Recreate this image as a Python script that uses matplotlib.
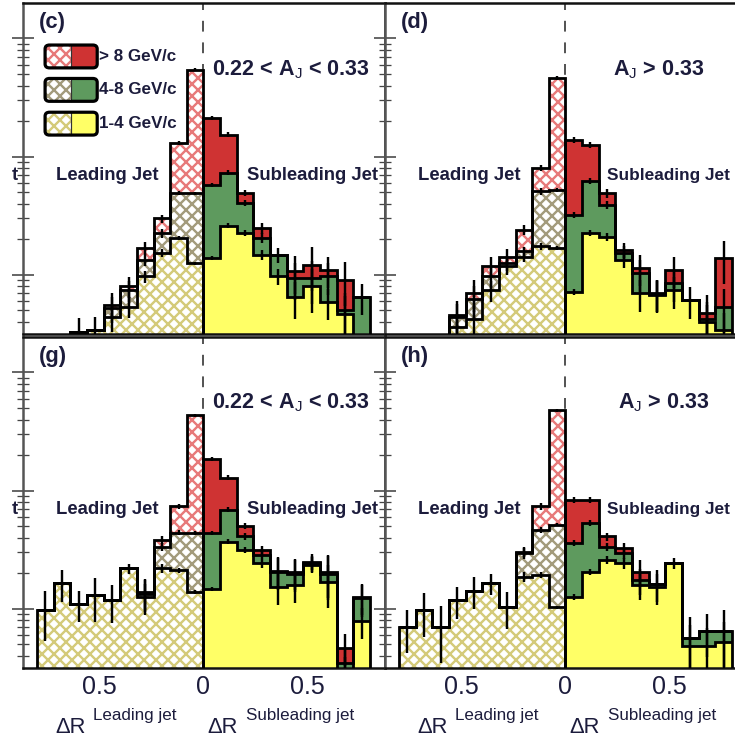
import numpy as np
import matplotlib
matplotlib.use("Agg")
import matplotlib.pyplot as plt
from matplotlib.patches import Rectangle, FancyBboxPatch
from matplotlib.ticker import LogLocator, NullFormatter

DPI = 72  # 1 pt == 1 px here, keeps hatch spacing close to the original

plt.rcParams['font.family'] = ['Liberation Sans', 'DejaVu Sans']
plt.rcParams['mathtext.fontset'] = 'custom'
plt.rcParams['mathtext.rm'] = 'Liberation Sans'
plt.rcParams['mathtext.it'] = 'Liberation Sans:italic'
plt.rcParams['mathtext.bf'] = 'Liberation Sans:bold'
plt.rcParams['hatch.linewidth'] = 2.4

# ---------------------------------------------------------------- data
# Delta R bins, same on the leading and the subleading side
dr_edges = [0.0, 0.08, 0.16, 0.24, 0.32, 0.40, 0.48, 0.56, 0.64, 0.72, 0.80]
pt_labels = ['> 8 GeV/c', '4-8 GeV/c', '1-4 GeV/c']

# (c) 0.22 < AJ < 0.33
c_lead_lo = [0.126, 0.205, 0.153, 0.097, 0.054, 0.044, 0.034, 0.033, 0, 0]
c_lead_mid = [0.364, 0.285, 0.072, 0.037, 0.020, 0.008, 0, 0, 0, 0]
c_lead_hi = [4.97, 0.82, 0.075, 0.034, 0.006, 0.004, 0, 0, 0, 0]
c_lead_err = [0.03, 0.04, 0.08, 0.12, 0.2, 0.25, 0.3, 0.3, 0, 0]
c_sub_lo = [0.14, 0.26, 0.225, 0.148, 0.097, 0.065, 0.080, 0.059, 0.047, 0.02]
c_sub_mid = [0.44, 0.47, 0.18, 0.057, 0.051, 0.029, 0.014, 0.038, 0.003, 0.045]
c_sub_hi = [1.55, 0.80, 0.085, 0.043, 0.0, 0.013, 0.028, 0.013, 0.041, 0.0]
c_sub_err = [0.04, 0.05, 0.06, 0.1, 0.15, 0.35, 0.4, 0.3, 0.4, 0.3]

# (d) AJ > 0.33
d_lead_lo = [0.168, 0.174, 0.143, 0.118, 0.074, 0.042, 0.036, 0, 0, 0]
d_lead_mid = [0.357, 0.334, 0.015, 0.008, 0.023, 0.020, 0.008, 0, 0, 0]
d_lead_hi = [4.1, 0.29, 0.082, 0.017, 0.021, 0.008, 0.002, 0, 0, 0]
d_lead_err = [0.04, 0.06, 0.1, 0.15, 0.2, 0.3, 0.3, 0, 0, 0]
d_sub_lo = [0.072, 0.225, 0.211, 0.134, 0.070, 0.068, 0.074, 0.061, 0.040, 0.034]
d_sub_mid = [0.25, 0.395, 0.179, 0.019, 0.033, 0.001, 0.011, 0, 0.002, 0.020]
d_sub_hi = [1.07, 0.64, 0.10, 0.010, 0.011, 0.001, 0.025, 0, 0.006, 0.085]
d_sub_err = [0.06, 0.06, 0.08, 0.15, 0.3, 0.3, 0.3, 0.3, 0.4, 0.4]

# (g) 0.22 < AJ < 0.33
g_lead_lo = [0.139, 0.213, 0.22, 0.126, 0.22, 0.118, 0.13, 0.11, 0.164, 0.097]
g_lead_mid = [0.30, 0.227, 0.116, 0.008, 0, 0, 0, 0, 0, 0]
g_lead_hi = [3.91, 0.30, 0.048, 0.005, 0, 0, 0, 0, 0, 0]
g_lead_err = [0.03, 0.05, 0.08, 0.3, 0.1, 0.35, 0.4, 0.3, 0.3, 0.45]
g_sub_lo = [0.148, 0.37, 0.315, 0.243, 0.153, 0.159, 0.237, 0.169, 0.03, 0.079]
g_sub_mid = [0.29, 0.32, 0.095, 0.043, 0.053, 0.040, 0.006, 0.030, 0.005, 0.044]
g_sub_hi = [1.41, 0.60, 0.09, 0.029, 0.004, 0.006, 0.008, 0.007, 0.012, 0.003]
g_sub_err = [0.04, 0.05, 0.06, 0.08, 0.3, 0.3, 0.15, 0.4, 0.3, 0.3]

# (h) AJ > 0.33
h_lead_lo = [0.103, 0.193, 0.187, 0.103, 0.164, 0.143, 0.118, 0.070, 0.097, 0.070]
h_lead_mid = [0.412, 0.274, 0.108, 0, 0, 0, 0, 0, 0, 0]
h_lead_hi = [4.29, 0.27, 0.01, 0, 0, 0, 0, 0, 0, 0]
h_lead_err = [0.03, 0.06, 0.1, 0.35, 0.2, 0.3, 0.3, 0.5, 0.4, 0.4]
h_sub_lo = [0.126, 0.206, 0.259, 0.243, 0.159, 0.153, 0.243, 0.049, 0.049, 0.052]
h_sub_mid = [0.234, 0.324, 0.077, 0.052, 0.016, 0.010, 0, 0.008, 0.016, 0.013]
h_sub_hi = [0.48, 0.31, 0.074, 0.035, 0.031, 0, 0, 0, 0, 0]
h_sub_err = [0.06, 0.06, 0.08, 0.1, 0.25, 0.3, 0.1, 0.5, 0.4, 0.5]

# ---------------------------------------------------------------- style
FILL = ['#ffff66', '#5e9a5e', '#cf3333']      # 1-4, 4-8, >8 GeV/c
HATCH = ['#d4ca7a', '#a39b7c', '#e77a7a']
TXT = '#1c1c3c'
FLOOR = 1e-4
W, H = 735, 740

fig = plt.figure(figsize=(W / DPI, H / DPI), dpi=DPI)


def add_axes_px(left, top, width, height):
    return fig.add_axes([left / W, 1 - (top + height) / H, width / W, height / H])


def draw_side(ax, sign, lo, mid, hi, err, hatched):
    vals = np.array([lo, mid, hi], dtype=float)
    tops = np.maximum(np.cumsum(vals, axis=0), FLOOR)
    bases = np.vstack([np.full(vals.shape[1], FLOOR), tops[:-1]])
    err = np.array(err, dtype=float)
    edges = np.array(dr_edges)
    if sign < 0:
        edges = -edges[::-1]
        vals, tops, bases, err = vals[:, ::-1], tops[:, ::-1], bases[:, ::-1], err[::-1]

    for k in range(3):
        if hatched:
            ax.stairs(tops[k], edges, baseline=bases[k], fill=True, facecolor='white',
                      edgecolor=HATCH[k], linewidth=0, hatch='xx', zorder=2)
        else:
            ax.stairs(tops[k], edges, baseline=bases[k], fill=True,
                      facecolor=FILL[k], linewidth=0, zorder=2)

    for k in range(3):
        ax.stairs(tops[k], edges, baseline=FLOOR if k == 2 else None,
                  color='black', linewidth=2.8, zorder=3)

    centers = 0.5 * (edges[:-1] + edges[1:])
    for k in range(3):
        m = vals[k] > 0
        ax.vlines(centers[m], tops[k][m] * (1 - err[m]), tops[k][m] * (1 + err[m]),
                  color='black', linewidth=2.4, zorder=4)


def style_axes(ax, bottom_row):
    ax.set_yscale('log')
    ax.set_ylim(10 ** -1.5, 10 ** 1.3)
    ax.set_xlim(-0.868, 0.873)
    ax.yaxis.set_major_locator(LogLocator(base=10, numticks=10))
    ax.yaxis.set_minor_locator(LogLocator(base=10, subs=np.arange(2, 10), numticks=30))
    ax.yaxis.set_major_formatter(NullFormatter())
    ax.yaxis.set_minor_formatter(NullFormatter())
    ax.tick_params(axis='y', which='major', direction='inout', length=22, width=1.6,
                   color='#444444', right=False)
    ax.tick_params(axis='y', which='minor', direction='inout', length=12, width=1.3,
                   color='#444444', right=False)
    ax.set_xticks([-0.5, 0, 0.5])
    ax.set_xticklabels(['0.5', '0', '0.5'])
    ax.tick_params(axis='x', direction='in', length=4, width=1.5, pad=7,
                   labelsize=25, labelcolor=TXT, top=False, labelbottom=bottom_row)
    for side, sp in ax.spines.items():
        sp.set_linewidth(2.5)
        sp.set_color('#555555' if side == 'left' else '#111111')
    ax.axvline(0, color='#444444', linewidth=1.8, linestyle=(0, (6, 6)), zorder=1)


def draw_legend(ax):
    x0, w, h = 0.061, 0.144, 0.069
    for i, row_top in enumerate([0.873, 0.772, 0.670]):
        k = 2 - i
        y0 = row_top - h
        ax.add_patch(Rectangle((x0, y0), w / 2, h, transform=ax.transAxes, facecolor='white',
                               edgecolor=HATCH[k], linewidth=0, hatch='xx', zorder=5))
        ax.add_patch(Rectangle((x0 + w / 2, y0), w / 2, h, transform=ax.transAxes,
                               facecolor=FILL[k], linewidth=0, zorder=5))
        ax.plot([x0 + w / 2] * 2, [y0, y0 + h], transform=ax.transAxes, color='#333333',
                linewidth=1.2, zorder=6)
        ax.add_patch(FancyBboxPatch((x0, y0), w, h, boxstyle='round,pad=0,rounding_size=0.012',
                                    transform=ax.transAxes, fill=False, edgecolor='black',
                                    linewidth=3.2, zorder=7))
        ax.text(x0 + w + 0.005, y0 + h / 2, pt_labels[i], transform=ax.transAxes,
                fontsize=17, fontweight='bold', color=TXT, ha='left', va='center')


def axis_title(ax, x, sup):
    # Delta R with a large superscript, as in the original
    trans = ax.get_xaxis_transform()
    ax.text(x, -0.196, 'ΔR', transform=trans, fontsize=22, color=TXT,
            ha='left', va='baseline')
    ax.annotate(sup, xy=(x, -0.196), xycoords=trans, xytext=(38, 13),
                textcoords='offset points', fontsize=17, color=TXT,
                ha='left', va='baseline', annotation_clip=False)


panels = [
    ('(c)', r'0.22 < A$_{\rm J}$ < 0.33', 0.522, (23, 3),
     (c_lead_lo, c_lead_mid, c_lead_hi, c_lead_err), (c_sub_lo, c_sub_mid, c_sub_hi, c_sub_err)),
    ('(d)', r'A$_{\rm J}$ > 0.33', 0.63, (385, 3),
     (d_lead_lo, d_lead_mid, d_lead_hi, d_lead_err), (d_sub_lo, d_sub_mid, d_sub_hi, d_sub_err)),
    ('(g)', r'0.22 < A$_{\rm J}$ < 0.33', 0.522, (23, 337),
     (g_lead_lo, g_lead_mid, g_lead_hi, g_lead_err), (g_sub_lo, g_sub_mid, g_sub_hi, g_sub_err)),
    ('(h)', r'A$_{\rm J}$ > 0.33', 0.645, (385, 337),
     (h_lead_lo, h_lead_mid, h_lead_hi, h_lead_err), (h_sub_lo, h_sub_mid, h_sub_hi, h_sub_err)),
]

for tag, aj_text, aj_x, (left, top), lead, sub in panels:
    bottom_row = top > 100
    right_col = left > 100
    ax = add_axes_px(left, top, 362, 331)
    style_axes(ax, bottom_row)
    draw_side(ax, -1, *lead, hatched=True)
    draw_side(ax, +1, *sub, hatched=False)

    ax.text(0.045, 0.942, tag, transform=ax.transAxes, fontsize=22, fontweight='bold',
            color=TXT, ha='left', va='center')
    ax.text(aj_x, 0.80, aj_text, transform=ax.transAxes, fontsize=21.5, fontweight='bold',
            color=TXT, ha='left', va='center', zorder=8)
    ax.text(0.09, 0.48, 'Leading Jet', transform=ax.transAxes, fontsize=18.5,
            fontweight='bold', color=TXT, ha='left', va='center')
    # the right column runs into the crop edge, keep its label inside the picture
    ax.text(0.613 if right_col else 0.619, 0.48, 'Subleading Jet', transform=ax.transAxes,
            fontsize=17.2 if right_col else 18.5, fontweight='bold', color=TXT,
            ha='left', va='center', clip_on=False)
    if not right_col:
        # last letter of the neighbouring panel's label, left of the crop
        ax.text(-0.031, 0.48, 't', transform=ax.transAxes, fontsize=18.5,
                fontweight='bold', color=TXT, ha='left', va='center', clip_on=False)
    if tag == '(c)':
        draw_legend(ax)

    if bottom_row:
        axis_title(ax, -0.713, 'Leading jet')
        axis_title(ax, 0.02, 'Subleading jet')

fig.savefig('out.png', dpi=DPI)
